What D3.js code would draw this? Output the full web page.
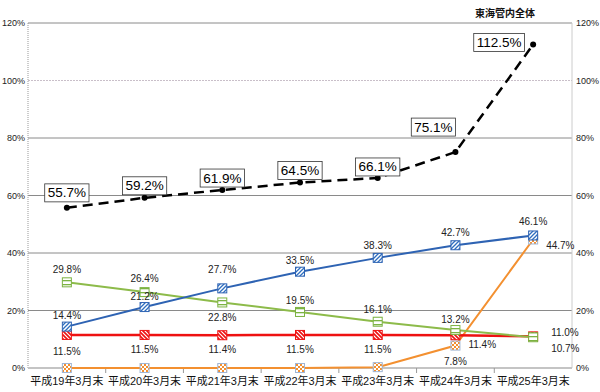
<!DOCTYPE html>
<html><head><meta charset="utf-8">
<script src="https://cdn.jsdelivr.net/npm/d3@7"></script>
<style>body{margin:0;background:#fff}svg{display:block}text{font-family:"Liberation Sans","Noto Sans CJK JP",sans-serif}</style>
</head><body><svg id="c" width="600" height="392"></svg>
<script>
const categories=["平成19年3月末","平成20年3月末","平成21年3月末","平成22年3月末","平成23年3月末","平成24年3月末","平成25年3月末"];
const yTicks=[0,20,40,60,80,100,120];
const totalVals=[55.7,59.2,61.9,64.5,66.1,75.1,112.5];
const blueVals=[14.4,21.2,27.7,33.5,38.3,42.7,46.1];
const greenVals=[29.8,26.4,22.8,19.5,16.1,13.2,10.7];
const redVals=[11.5,11.5,11.4,11.5,11.5,11.4,11.0];
const orangeVals=[0,0,0,0,0.3,7.8,44.7];
const title="東海管内全体";

const svg=d3.select("#c");
const L=28,R=572,T=23,B=368;
const x=d3.scaleBand().domain(categories).range([L,R]);
const cx=c=>x(c)+x.bandwidth()/2;
const y=d3.scaleLinear().domain([0,120]).range([B,T]);

const defs=svg.append("defs");
function pat(id,color,kind){
  const p=defs.append("pattern").attr("id",id).attr("patternUnits","userSpaceOnUse").attr("width",4).attr("height",4);
  p.append("rect").attr("width",4).attr("height",4).attr("fill","#fff");
  if(kind==="d1") p.append("path").attr("d","M-1,1 l2,-2 M0,4 l4,-4 M3,5 l2,-2").attr("stroke",color).attr("stroke-width",1.3);
  if(kind==="d2") p.append("path").attr("d","M-1,3 l2,2 M0,0 l4,4 M3,-1 l2,2").attr("stroke",color).attr("stroke-width",1.6);
  if(kind==="h") p.append("rect").attr("y",0).attr("width",4).attr("height",1.3).attr("fill",color);
  if(kind==="chk"){p.append("rect").attr("width",2).attr("height",2).attr("fill",color);p.append("rect").attr("x",2).attr("y",2).attr("width",2).attr("height",2).attr("fill",color);}
}
pat("pb","#2f6fc0","d1");pat("pr","#ee1111","d2");pat("pg","#7cb342","h");pat("po","#f39030","chk");

// gridlines
yTicks.forEach(t=>{
  if(t===0) return;
  const ln=svg.append("line").attr("x1",L).attr("x2",R).attr("y1",y(t)).attr("y2",y(t));
  if(t===100) ln.attr("stroke","#c9bfc9").attr("stroke-dasharray","2,1");
  else ln.attr("stroke","#8a8a8a");
});
svg.append("line").attr("x1",L).attr("x2",L).attr("y1",T).attr("y2",B).attr("stroke","#999").attr("stroke-dasharray","1,1");
svg.append("line").attr("x1",R).attr("x2",R).attr("y1",T).attr("y2",B).attr("stroke","#ccc");
svg.append("line").attr("x1",L).attr("x2",R).attr("y1",B).attr("y2",B).attr("stroke","#c4c4c4").attr("stroke-width",2);

// axes labels
const yl=d3.axisLeft(y).tickValues(yTicks).tickFormat(d=>d+"%").tickSize(0).tickPadding(3);
const gl=svg.append("g").attr("transform",`translate(${L},0)`).call(yl);
const yr=d3.axisRight(y).tickValues(yTicks).tickFormat(d=>d+"%").tickSize(0).tickPadding(4);
const gr=svg.append("g").attr("transform",`translate(${R},0)`).call(yr);
[gl,gr].forEach(g=>{g.select(".domain").remove();g.selectAll("text").attr("font-size",9).attr("fill","#222").attr("font-family","DejaVu Sans Condensed, DejaVu Sans, sans-serif");});

const xa=d3.axisBottom(x).tickSize(0).tickPadding(9);
const gx=svg.append("g").attr("transform",`translate(0,${B})`).call(xa);
gx.select(".domain").remove();
gx.selectAll("text").attr("font-size",11.5).attr("fill","#111").attr("font-family","Noto Sans CJK JP, sans-serif")
  .attr("textLength",73).attr("lengthAdjust","spacingAndGlyphs");
// category boundary ticks
categories.slice(1).forEach(c=>{svg.append("line").attr("x1",x(c)).attr("x2",x(c)).attr("y1",B).attr("y2",B+5).attr("stroke","#999");});

const line=d3.line().x((d,i)=>cx(categories[i])).y(d=>y(d));
function series(vals,color,w,dash){
  svg.append("path").datum(vals).attr("d",line).attr("fill","none").attr("stroke",color).attr("stroke-width",w).attr("stroke-dasharray",dash||null);
}
series(orangeVals,"#f39030",2);
series(redVals,"#ee1111",2.5);
series(greenVals,"#8dbb4a",2);
series(blueVals,"#2e63b3",2);
series(totalVals,"#000",2.5,"10,6");

function markers(vals,fill,stroke){
  svg.selectAll(null).data(vals).enter().append("rect")
    .attr("x",(d,i)=>cx(categories[i])-4.5).attr("y",d=>y(d)-4.5).attr("width",9).attr("height",9)
    .attr("fill",fill).attr("stroke",stroke).attr("stroke-width",1);
}
markers(orangeVals,"url(#po)","#9fb6d6");
markers(redVals,"url(#pr)","#ee1111");
markers(greenVals,"url(#pg)","#7cb342");
markers(blueVals,"url(#pb)","#2e63b3");
svg.selectAll(null).data(totalVals).enter().append("circle")
  .attr("cx",(d,i)=>cx(categories[i])).attr("cy",d=>y(d)).attr("r",3).attr("fill","#000");

// data labels
function lab(vals,offs){
  vals.forEach((v,i)=>{
    const o=offs[i]; if(!o) return;
    svg.append("text").attr("x",cx(categories[i])+o[0]).attr("y",y(v)+o[1]).attr("text-anchor",o[2]||"middle")
      .attr("font-size",10).attr("fill","#222").attr("font-family","DejaVu Sans Condensed, DejaVu Sans, sans-serif").text(v.toFixed(1)+"%");
  });
}
lab(blueVals,[[0,-8],[0,-7],[0,-15],[0,-8],[0,-9],[0,-9],[0,-10]]);
lab(greenVals,[[0,-9],[0,-10],[0,19],[0,-8],[0,-9],[0,-7],[18,15,"start"]]);
lab(redVals,[[0,20],[0,18],[0,18],[0,18],[0,18],[13,13,"start"],[18,0,"start"]]);
lab(orangeVals,[null,null,null,null,null,[0,19],[13,10,"start"]]);

// boxed total labels
const boxOff=[[0,-15],[0,-12],[0,-12],[0,-12],[0,-11],[-22,-25],[-34,-2]];
totalVals.forEach((v,i)=>{
  const tx=cx(categories[i])+boxOff[i][0], ty=y(v)+boxOff[i][1];
  const g=svg.append("g");
  const t=g.append("text").attr("x",tx).attr("y",ty).attr("text-anchor","middle").attr("dominant-baseline","central")
    .attr("font-size",13.5).attr("fill","#000").attr("font-family","DejaVu Sans Condensed, DejaVu Sans, sans-serif").text(v.toFixed(1)+"%");
  const bb=t.node().getBBox();
  g.insert("rect","text").attr("x",bb.x-3).attr("y",ty-9).attr("width",bb.width+6).attr("height",18).attr("fill","#fff").attr("stroke","#333").attr("stroke-width",0.8);
});

svg.append("text").attr("x",505).attr("y",17).attr("text-anchor","middle").attr("font-size",10).attr("font-weight","bold").attr("fill","#111").attr("font-family","Noto Sans CJK JP, sans-serif").text(title);
</script></body></html>
